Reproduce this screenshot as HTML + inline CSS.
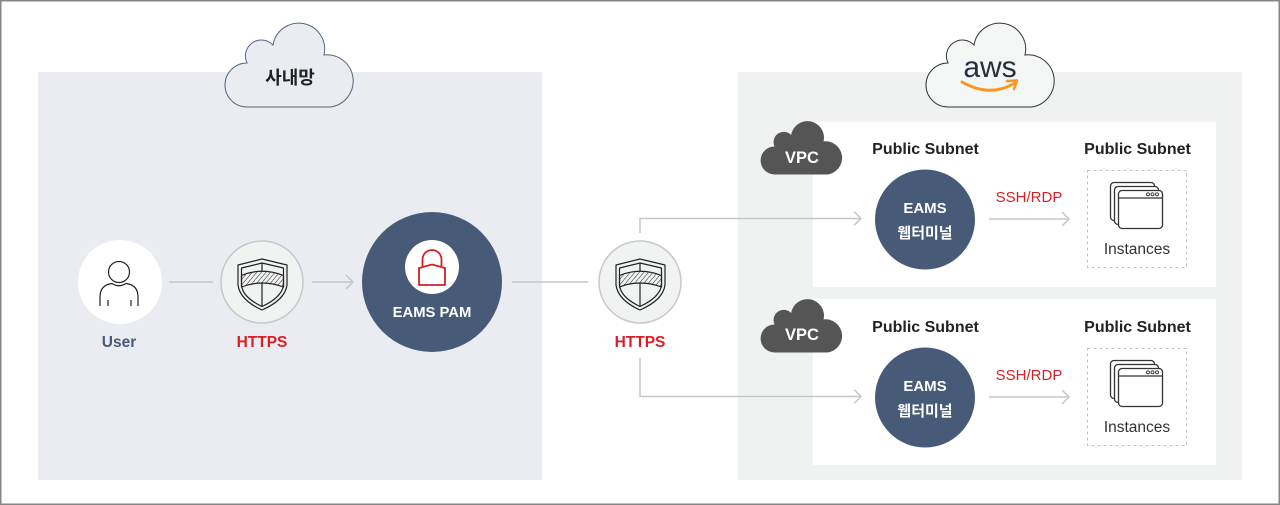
<!DOCTYPE html>
<html><head><meta charset="utf-8">
<style>
html,body{margin:0;padding:0;background:#fff;}
svg{display:block;}
text{font-family:"Liberation Sans","Noto Sans CJK KR",sans-serif;}
</style></head>
<body>
<svg width="1280" height="505" viewBox="0 0 1280 505" xmlns="http://www.w3.org/2000/svg">
<defs>
  <pattern id="hatch" patternUnits="userSpaceOnUse" width="3.5" height="3.5" patternTransform="rotate(40)">
    <line x1="0" y1="0" x2="0" y2="3.5" stroke="#222" stroke-width="1"/>
  </pattern>
  <g id="shield" fill="none" stroke="#222" stroke-width="1.2" stroke-linejoin="round">
    <path d="M -24 -17 L 0 -23 L 25 -17 L 25 3 Q 23 18 0 28 Q -22 18 -24 3 Z"/>
    <path d="M -20.5 -14 L 0 -19 L 21.5 -14 L 21.5 3.5 Q 19.5 15.5 0 24.5 Q -19 15.5 -20.5 3.5 Z"/>
    <path d="M -20.5 -6.5 Q 0 -15 21.5 -6.5 L 21.5 5 Q 0 -3 -20.5 5 Z" fill="url(#hatch)"/>
    <line x1="0" y1="-19" x2="0" y2="-11"/>
    <line x1="0" y1="0.8" x2="0" y2="24.5"/>
  </g>
  <path id="cloud" d="M 247 107 A 22 22 0 0 1 247 63 A 16 16 0 0 1 273 45 A 26 26 0 1 1 324 55 A 26 26 0 1 1 330 107 Z"/>
  <g id="inst">
    <rect x="1087.5" y="170.5" width="99" height="97" fill="none" stroke="#c2c2c2" stroke-width="1" stroke-dasharray="3 3"/>
    <rect x="1110.5" y="182.5" width="44" height="38" rx="3.5" fill="#fff" stroke="#333" stroke-width="1.3"/>
    <rect x="1114.5" y="186.5" width="44" height="38" rx="3.5" fill="#fff" stroke="#333" stroke-width="1.3"/>
    <rect x="1118.5" y="190.5" width="44" height="38" rx="3.5" fill="#fff" stroke="#333" stroke-width="1.3"/>
    <line x1="1118.5" y1="198" x2="1162.5" y2="198" stroke="#333" stroke-width="1.2"/>
    <circle cx="1148" cy="194.3" r="1.5" fill="none" stroke="#333" stroke-width="0.9"/>
    <circle cx="1152.5" cy="194.3" r="1.5" fill="none" stroke="#333" stroke-width="0.9"/>
    <circle cx="1157" cy="194.3" r="1.5" fill="none" stroke="#333" stroke-width="0.9"/>
    <text x="1137" y="254" font-size="15.5" fill="#333" text-anchor="middle">Instances</text>
  </g>
</defs>

<!-- outer border -->
<rect x="0.75" y="0.75" width="1278.5" height="503.5" fill="#fff" stroke="#858585" stroke-width="1.5"/>

<!-- panels -->
<rect x="38" y="72" width="504" height="408" fill="#ebecf1"/>
<rect x="738" y="72" width="504" height="408" fill="#f0f1f1"/>
<rect x="813" y="122" width="403" height="165" fill="#fff"/>
<rect x="813" y="299" width="403" height="166" fill="#fff"/>

<!-- 사내망 cloud -->
<use href="#cloud" fill="#ebecf1" stroke="#56657f" stroke-width="1"/>
<text x="290" y="84" font-size="18" font-weight="bold" fill="#222" text-anchor="middle">사내망</text>

<!-- aws cloud -->
<use href="#cloud" transform="translate(701,0)" fill="#f4f5f5" stroke="#333" stroke-width="1"/>
<text x="990" y="77" font-size="30" fill="#232f3e" text-anchor="middle">aws</text>
<path d="M 962 82 Q 990 98 1015 83" fill="none" stroke="#f7981d" stroke-width="3" stroke-linecap="round"/>
<path d="M 1007 81 L 1017 80.5 L 1014 89" fill="none" stroke="#f7981d" stroke-width="2.6" stroke-linecap="round" stroke-linejoin="round"/>

<!-- VPC clouds -->
<use href="#cloud" transform="translate(617.5,106.4) scale(0.636)" fill="#555"/>
<text x="802" y="163" font-size="16.5" font-weight="bold" fill="#fff" text-anchor="middle">VPC</text>
<use href="#cloud" transform="translate(617.5,284.4) scale(0.636)" fill="#555"/>
<text x="802" y="340" font-size="16.5" font-weight="bold" fill="#fff" text-anchor="middle">VPC</text>

<!-- connectors -->
<g fill="none" stroke="#c4c7cb" stroke-width="1.5">
  <line x1="169" y1="282" x2="213" y2="282"/>
  <line x1="312" y1="282" x2="353" y2="282"/>
  <path d="M 346 275 L 353 282 L 346 289"/>
  <line x1="512" y1="282" x2="588" y2="282"/>
  <path d="M 640 233 V 218.5 H 861"/>
  <path d="M 854 211.5 L 861 218.5 L 854 225.5"/>
  <path d="M 640 358 V 396.5 H 861"/>
  <path d="M 854 389.5 L 861 396.5 L 854 403.5"/>
  <line x1="989" y1="219" x2="1069" y2="219"/>
  <path d="M 1062 212 L 1069 219 L 1062 226"/>
  <line x1="989" y1="397" x2="1069" y2="397"/>
  <path d="M 1062 390 L 1069 397 L 1062 404"/>
</g>

<!-- User -->
<circle cx="120" cy="282" r="42" fill="#fff"/>
<g fill="none" stroke="#222" stroke-width="1.2">
  <circle cx="119" cy="272" r="10.5"/>
  <path d="M 100 306 V 297 Q 100 285 112 283.5 Q 119 288 126 283.5 Q 138 285 138 297 V 306"/>
  <line x1="108" y1="300" x2="108" y2="306"/>
  <line x1="131" y1="300" x2="131" y2="306"/>
</g>
<text x="119" y="347" font-size="15.5" font-weight="bold" fill="#4a5a78" text-anchor="middle">User</text>

<!-- HTTPS 1 -->
<circle cx="262" cy="282" r="41" fill="#f1f2f2" stroke="#c8c8c8" stroke-width="1.5"/>
<use href="#shield" transform="translate(262,282)"/>
<text x="262" y="347" font-size="15.5" font-weight="bold" fill="#d71f26" text-anchor="middle">HTTPS</text>

<!-- EAMS PAM -->
<circle cx="432" cy="282" r="70" fill="#475b79"/>
<circle cx="432" cy="267" r="27" fill="#fff"/>
<g fill="none" stroke="#d71f26" stroke-width="1.8" stroke-linejoin="round">
  <path d="M 422.5 266 V 259.5 A 9.5 9.5 0 0 1 441.5 259.5 V 266"/>
  <path d="M 419 268 L 432 264.5 L 445 268 V 285 H 419 Z"/>
</g>
<text x="432" y="317" font-size="14.8" font-weight="bold" fill="#fff" text-anchor="middle">EAMS PAM</text>

<!-- HTTPS 2 -->
<circle cx="640" cy="282" r="41" fill="#f1f2f2" stroke="#c8c8c8" stroke-width="1.5"/>
<use href="#shield" transform="translate(640,282)"/>
<text x="640" y="347" font-size="15.5" font-weight="bold" fill="#d71f26" text-anchor="middle">HTTPS</text>

<!-- Row 1 -->
<text x="925.5" y="154" font-size="16" font-weight="bold" fill="#222" text-anchor="middle">Public Subnet</text>
<text x="1137.5" y="154" font-size="16" font-weight="bold" fill="#222" text-anchor="middle">Public Subnet</text>
<circle cx="925" cy="219.5" r="50" fill="#475b79"/>
<text x="925" y="213" font-size="15" font-weight="bold" fill="#fff" text-anchor="middle">EAMS</text>
<text x="925" y="238" font-size="15" font-weight="bold" fill="#fff" text-anchor="middle">웹터미널</text>
<text x="1029" y="202" font-size="15" fill="#d71f26" text-anchor="middle">SSH/RDP</text>
<use href="#inst"/>

<!-- Row 2 -->
<text x="925.5" y="332" font-size="16" font-weight="bold" fill="#222" text-anchor="middle">Public Subnet</text>
<text x="1137.5" y="332" font-size="16" font-weight="bold" fill="#222" text-anchor="middle">Public Subnet</text>
<circle cx="925" cy="397.5" r="50" fill="#475b79"/>
<text x="925" y="391" font-size="15" font-weight="bold" fill="#fff" text-anchor="middle">EAMS</text>
<text x="925" y="416" font-size="15" font-weight="bold" fill="#fff" text-anchor="middle">웹터미널</text>
<text x="1029" y="380" font-size="15" fill="#d71f26" text-anchor="middle">SSH/RDP</text>
<use href="#inst" transform="translate(0,178)"/>
</svg>
</body></html>
